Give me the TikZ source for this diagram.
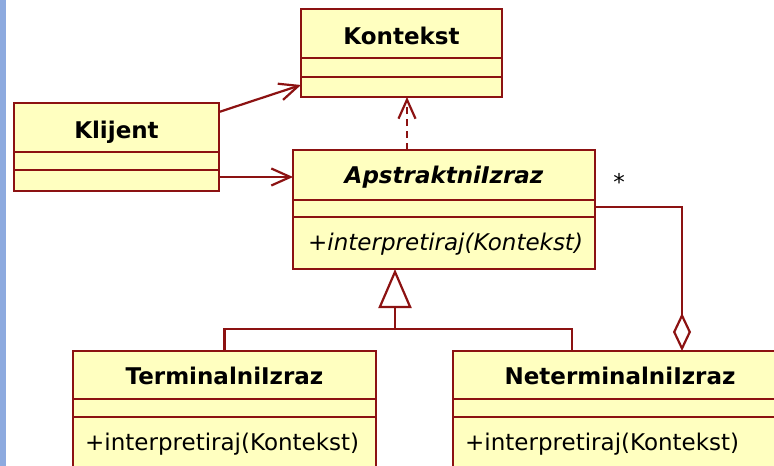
\documentclass[tikz,border=0pt]{standalone}
\usepackage{fontspec}
\setmainfont{DejaVu Sans}
\usepackage{xcolor}
\usepackage{tikz}
\usetikzlibrary{arrows.meta,calc}

\definecolor{umlred}{RGB}{140,18,18}
\definecolor{umlfill}{RGB}{255,255,192}
\definecolor{slideblue}{RGB}{141,170,223}

\begin{document}
\begin{tikzpicture}[x=1pt,y=-1pt,font=\fontsize{23}{27}\selectfont,
  cls/.style={draw=umlred,fill=umlfill,line width=2.2pt,anchor=north west,inner sep=0pt,outer sep=0pt},
  title/.style={anchor=base,font=\fontsize{23}{27}\selectfont\bfseries,inner sep=0pt},
  oper/.style={anchor=base west,inner sep=0pt},
  sep/.style={draw=umlred,line width=2.2pt},
  conn/.style={draw=umlred,line width=2.2pt},
  opena/.style={-{Straight Barb[length=19pt,width=17pt]}}]
\clip (0,0) rectangle (774,466);
\fill[white] (0,0) rectangle (774,466);
\fill[slideblue] (0,0) rectangle (6,466);

% Klijent
\node[cls,minimum width=205pt,minimum height=88pt] (klijent) at (14,103) {};
\node[title] (klijentname) at ($(klijent.north)+(0,35)$) {Klijent};
\draw[sep] ($(klijent.north west)+(0,49)$) -- ($(klijent.north east)+(0,49)$);
\draw[sep] ($(klijent.north west)+(0,67)$) -- ($(klijent.north east)+(0,67)$);

% Kontekst
\node[cls,minimum width=201pt,minimum height=88pt] (kontekst) at (301,9) {};
\node[title] (kontekstname) at ($(kontekst.north)+(0,35)$) {Kontekst};
\draw[sep] ($(kontekst.north west)+(0,49)$) -- ($(kontekst.north east)+(0,49)$);
\draw[sep] ($(kontekst.north west)+(0,68)$) -- ($(kontekst.north east)+(0,68)$);

% ApstraktniIzraz
\node[cls,minimum width=302pt,minimum height=119pt] (apstr) at (293,150) {};
\node[title,font=\fontsize{23}{27}\selectfont\bfseries\itshape] (apstrname) at ($(apstr.north)+(0,33)$) {ApstraktniIzraz};
\draw[sep] ($(apstr.north west)+(0,50)$) -- ($(apstr.north east)+(0,50)$);
\draw[sep] ($(apstr.north west)+(0,67)$) -- ($(apstr.north east)+(0,67)$);
\node[oper,font=\fontsize{23}{27}\selectfont\itshape] (apstrop) at ($(apstr.north west)+(15,100)$) {+interpretiraj(Kontekst)};

% TerminalniIzraz
\node[cls,minimum width=303pt,minimum height=118pt] (terminalni) at (73,351) {};
\node[title] (terminalniname) at ($(terminalni.north)+(0,33)$) {TerminalniIzraz};
\draw[sep] ($(terminalni.north west)+(0,48)$) -- ($(terminalni.north east)+(0,48)$);
\draw[sep] ($(terminalni.north west)+(0,66)$) -- ($(terminalni.north east)+(0,66)$);
\node[oper] (terminalniop) at ($(terminalni.north west)+(12,99)$) {+interpretiraj(Kontekst)};

% NeterminalniIzraz
\node[cls,minimum width=334pt,minimum height=118pt] (neterm) at (453,351) {};
\node[title] (netermname) at ($(neterm.north west)+(167,33)$) {NeterminalniIzraz};
\draw[sep] ($(neterm.north west)+(0,48)$) -- ($(neterm.north east)+(0,48)$);
\draw[sep] ($(neterm.north west)+(0,66)$) -- ($(neterm.north east)+(0,66)$);
\node[oper] (netermop) at ($(neterm.north west)+(12,99)$) {+interpretiraj(Kontekst)};

% veze
\draw[conn,opena] ($(klijent.north east)+(0,9)$) -- ($(kontekst.south west)+(0,-12)$);
\coordinate (klout) at ($(klijent.south east)+(0,-14)$);
\draw[conn,opena] (klout) -- (klout -| apstr.west);
\coordinate (apout) at ($(apstr.north west)+(114,0)$);
\draw[conn,opena,dash pattern=on 7pt off 5pt] (apout) -- (apout |- kontekst.south);

\coordinate (junc) at (395,329);
\draw[conn,-{Triangle[open,length=39pt,width=33pt,fill=white]}] (junc) -- (junc |- apstr.south);
\draw[conn] (terminalni.north) |- (junc) -| ($(neterm.north west)+(119,0)$);

\draw[conn,{Diamond[open,length=38pt,width=18pt,fill=white]}-] ($(neterm.north west)+(229,0)$) |- ($(apstr.north east)+(0,57)$);
\node (mult) at (619,182) {*};
\end{tikzpicture}
\end{document}
